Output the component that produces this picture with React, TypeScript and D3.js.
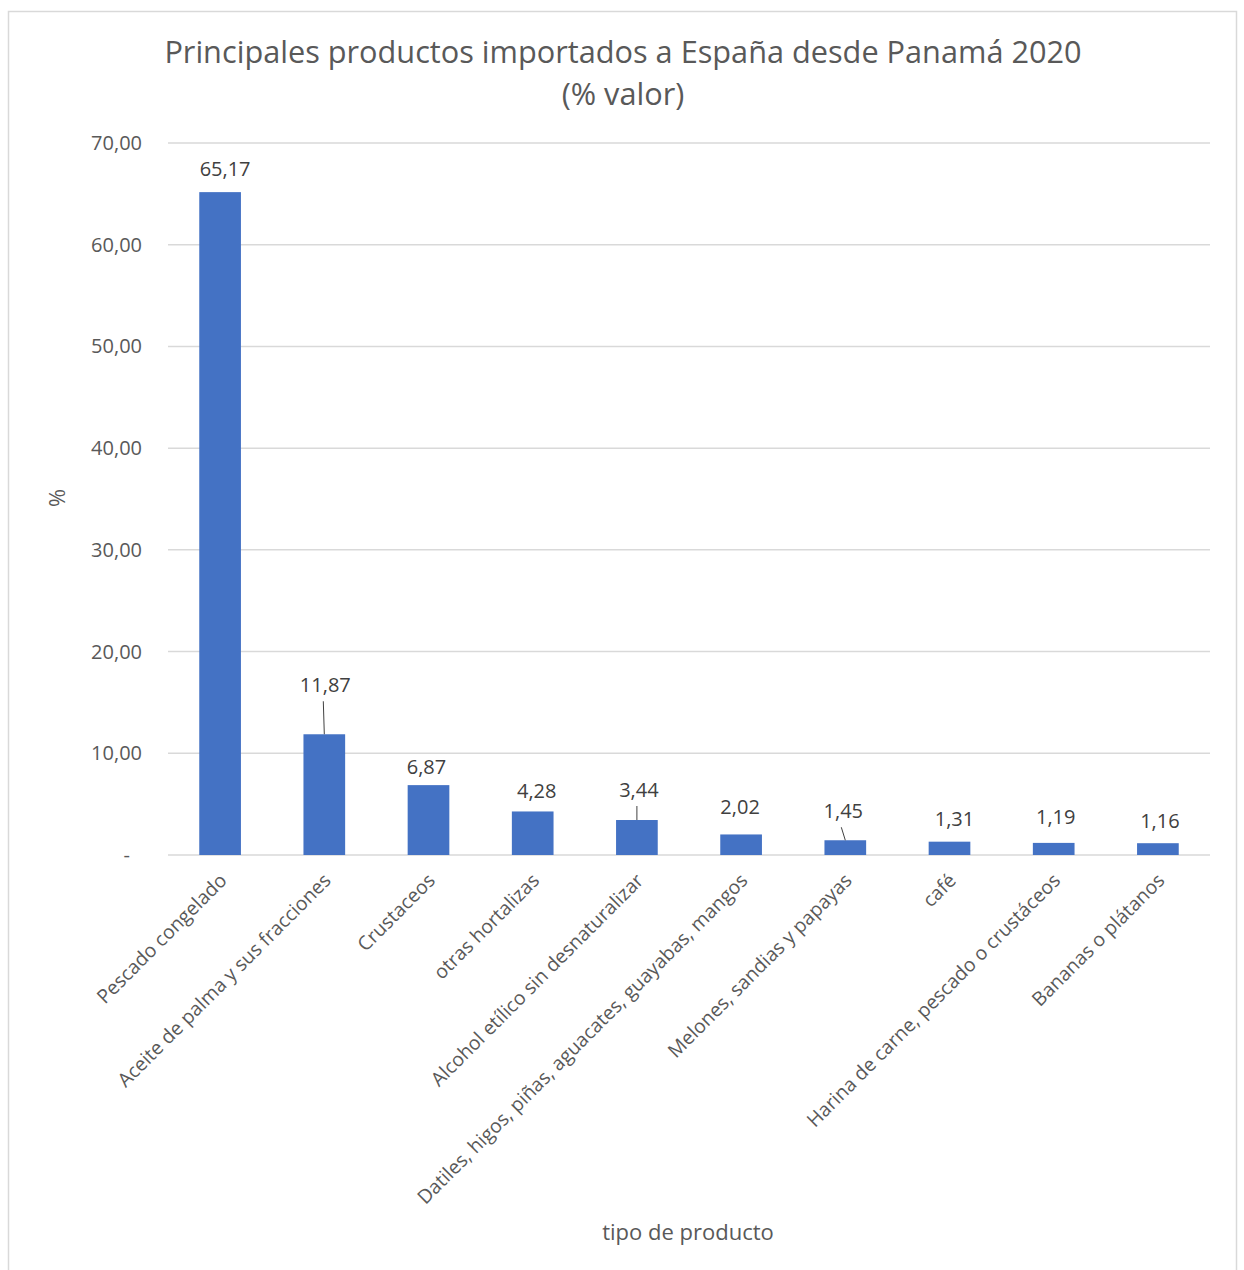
import React from "react";
import * as d3 from "d3";

const categories = [
  "Pescado congelado",
  "Aceite de palma y sus fracciones",
  "Crustaceos",
  "otras hortalizas",
  "Alcohol etílico sin desnaturalizar",
  "Datiles, higos, piñas, aguacates, guayabas, mangos",
  "Melones, sandias y papayas",
  "café",
  "Harina de carne, pescado o crustáceos",
  "Bananas o plátanos",
];
const values = [65.17, 11.87, 6.87, 4.28, 3.44, 2.02, 1.45, 1.31, 1.19, 1.16];
const valueLabels = ["65,17", "11,87", "6,87", "4,28", "3,44", "2,02", "1,45", "1,31", "1,19", "1,16"];
const yTicks = [0, 10, 20, 30, 40, 50, 60, 70];
const yTickLabels = ["-", "10,00", "20,00", "30,00", "40,00", "50,00", "60,00", "70,00"];

// label placement (layout only)
const labelLift = [16, 42, 11, 13, 23, 20, 22, 16, 19, 15];
const labelShift = [5, 1, -2, 4, 2, -1, -2, 5, 2, 2];
const hasLeader = [false, true, false, false, true, false, true, false, false, false];

const W = 1244;
const H = 1270;
const left = 168;
const right = 1210;
const top = 143;
const bottom = 855;
const FONT = "'Open Sans', 'Noto Sans', sans-serif";

export default function App() {
  const x = d3.scaleBand<string>().domain(categories).range([left, right]).paddingInner(0.6).paddingOuter(0.3);
  const y = d3.scaleLinear().domain([0, 70]).range([bottom, top]);

  return (
    <div style={{ position: "absolute", left: 0, top: 0 }}>
      <svg width={W} height={H} style={{ display: "block", background: "#fff" }}>
        <rect x={8.5} y={11.5} width={1228} height={1275} fill="#fff" stroke="#d9d9d9" strokeWidth={1.5} />
        <text x={623} y={63} textAnchor="middle" fontFamily={FONT} fontSize={30.7} fill="#595959">
          Principales productos importados a España desde Panamá 2020
        </text>
        <text x={623} y={105} textAnchor="middle" fontFamily={FONT} fontSize={30.7} fill="#595959">
          (% valor)
        </text>
        {yTicks.map((t, i) => (
          <g key={t}>
            <line x1={left} x2={right} y1={y(t)} y2={y(t)} stroke="#d9d9d9" strokeWidth={1.5} />
            <text x={t === 0 ? 130 : 142} y={y(t)} dy="0.35em" textAnchor="end" fontFamily={FONT} fontSize={20} fill="#595959">
              {yTickLabels[i]}
            </text>
          </g>
        ))}
        {categories.map((c, i) => {
          const bx = x(c)!;
          const cx = bx + x.bandwidth() / 2;
          const by = y(values[i]);
          const lx = cx + labelShift[i];
          const ly = by - labelLift[i];
          return (
            <g key={c}>
              <rect x={bx} y={by} width={x.bandwidth()} height={bottom - by} fill="#4472C4" />
              <text x={lx} y={ly} textAnchor="middle" fontFamily={FONT} fontSize={20} fill="#404040">
                {valueLabels[i]}
              </text>
              {hasLeader[i] && (
                <line x1={lx - 2} y1={ly + 9} x2={cx} y2={by} stroke="#404040" strokeWidth={1} />
              )}
              <text
                transform={`translate(${cx + 3},${bottom + 22}) rotate(-45)`}
                textAnchor="end"
                dy="0.35em"
                fontFamily={FONT}
                fontSize={19.4}
                fill="#595959"
              >
                {c}
              </text>
            </g>
          );
        })}
        <text transform={`translate(57,498) rotate(-90)`} textAnchor="middle" dy="0.35em" fontFamily={FONT} fontSize={22} fill="#595959">
          %
        </text>
        <text x={688} y={1240} textAnchor="middle" fontFamily={FONT} fontSize={22} fill="#595959">
          tipo de producto
        </text>
      </svg>
    </div>
  );
}
